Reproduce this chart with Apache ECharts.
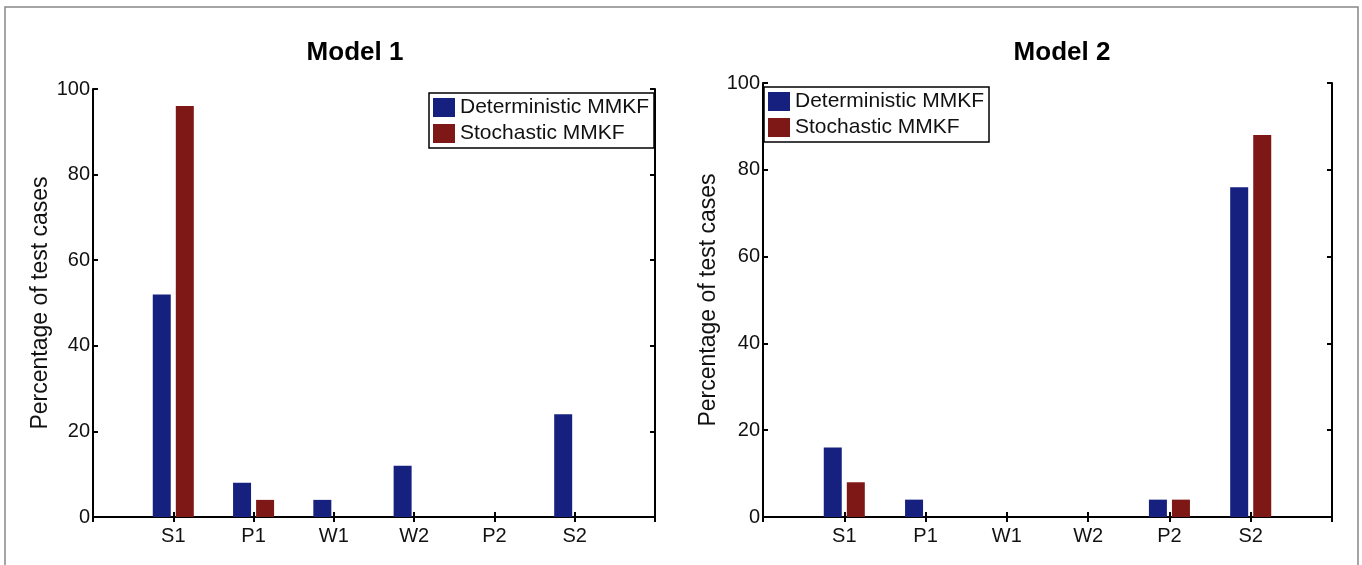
<!DOCTYPE html>
<html>
<head>
<meta charset="utf-8">
<script src="https://cdn.jsdelivr.net/npm/echarts@6/dist/echarts.min.js"></script>
<style>
	body { margin: 0; background: #fff; }
	#chart { width: 1362px; height: 565px; }
</style>
</head>
<body>
<div id="chart"></div>
<script>
var categories = ['S1', 'P1', 'W1', 'W2', 'P2', 'S2'];
var model1Det = [52, 8, 4, 12, 0, 24];
var model1Sto = [96, 4, 0, 0, 0, 0];
var model2Det = [16, 4, 0, 0, 4, 76];
var model2Sto = [8, 0, 0, 0, 4, 88];
var yTicks = [0, 20, 40, 60, 80, 100];

var blue = '#16217f';
var red = '#7d1816';
var font = 'Liberation Sans, Arial, sans-serif';

// padded so the axis runs 0..7 like the matlab plot
var cats = [''].concat(categories, ['']);
function pad(arr) { return [null].concat(arr, [null]); }

function xAx(grid, pos) {
	return {
		type: 'category', gridIndex: grid, position: pos, data: cats, boundaryGap: false,
		axisLine: { lineStyle: { color: '#000', width: 2 } },
		axisTick: { inside: true, length: 5, lineStyle: { color: '#000', width: 2 } },
		axisLabel: { show: pos === 'bottom', color: '#111', fontSize: 20, fontFamily: font, margin: 9 },
		splitLine: { show: false }
	};
}
function yAx(grid, pos) {
	return {
		type: 'value', gridIndex: grid, position: pos,
		min: yTicks[0], max: yTicks[yTicks.length - 1], interval: yTicks[1] - yTicks[0],
		name: pos === 'left' ? 'Percentage of test cases' : '',
		nameLocation: 'middle', nameRotate: 90, nameGap: grid === 0 ? 41 : 43,
		nameTextStyle: { color: '#111', fontSize: 23, fontFamily: font },
		axisLine: { show: true, lineStyle: { color: '#000', width: 2 } },
		axisTick: { show: true, inside: true, length: 5, lineStyle: { color: '#000', width: 2 } },
		axisLabel: { show: pos === 'left', color: '#111', fontSize: 20, fontFamily: font, margin: 3 },
		splitLine: { show: false }
	};
}
function bars(name, data, grid, color) {
	return {
		name: name, type: 'bar', xAxisIndex: grid * 2, yAxisIndex: grid * 2,
		data: pad(data), barWidth: 18, barGap: '28%',
		itemStyle: { color: color }
	};
}
function legend(left, top) {
	return {
		left: left, top: top, orient: 'vertical',
		data: ['Deterministic MMKF', 'Stochastic MMKF'],
		icon: 'rect', itemWidth: 22, itemHeight: 19, itemGap: 5,
		padding: [4, 5, 4, 4],
		borderColor: '#000', borderWidth: 1.5, backgroundColor: '#fff',
		textStyle: { color: '#111', fontSize: 21, fontFamily: font }
	};
}

var chart = echarts.init(document.getElementById('chart'));
chart.setOption({
	animation: false,
	backgroundColor: '#fff',
	grid: [
		{ left: 93, top: 89, width: 562, height: 428 },
		{ left: 763, top: 83, width: 569, height: 434 }
	],
	xAxis: [xAx(0, 'bottom'), xAx(0, 'top'), xAx(1, 'bottom'), xAx(1, 'top')],
	yAxis: [yAx(0, 'left'), yAx(0, 'right'), yAx(1, 'left'), yAx(1, 'right')],
	legend: [legend(429, 93), legend(764, 87)],
	series: [
		bars('Deterministic MMKF', model1Det, 0, blue),
		bars('Stochastic MMKF', model1Sto, 0, red),
		bars('Deterministic MMKF', model2Det, 1, blue),
		bars('Stochastic MMKF', model2Sto, 1, red)
	],
	graphic: [
		{ type: 'rect', shape: { x: 5, y: 7, width: 1353, height: 600 }, style: { fill: 'none', stroke: '#888', lineWidth: 1.5 }, silent: true },
		{ type: 'text', x: 355, y: 40, style: { text: 'Model 1', font: 'bold 26px ' + font, fill: '#000', textAlign: 'center' } },
		{ type: 'text', x: 1062, y: 40, style: { text: 'Model 2', font: 'bold 26px ' + font, fill: '#000', textAlign: 'center' } }
	]
});
</script>
</body>
</html>
